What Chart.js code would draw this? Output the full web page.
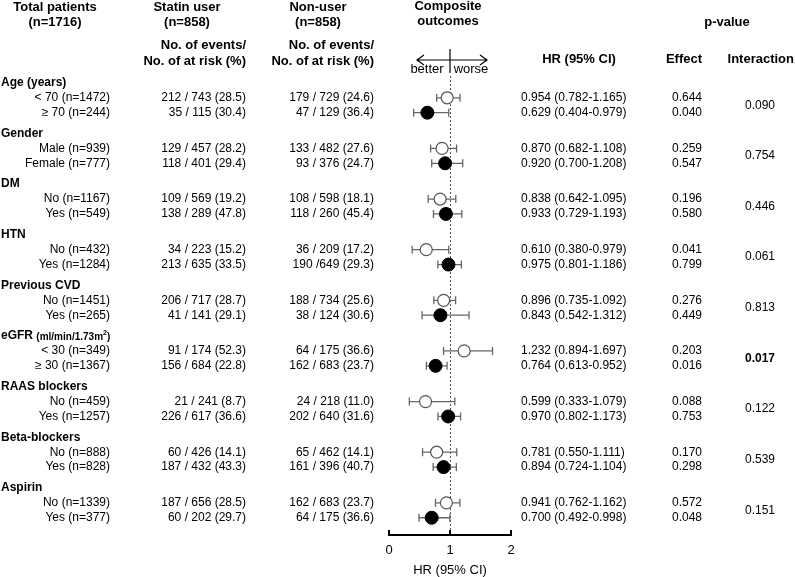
<!DOCTYPE html>
<html lang="en">
<head>
    <meta charset="UTF-8">
    <title>Composite outcomes by subgroup</title>
    <script src="https://cdn.jsdelivr.net/npm/chart.js"></script>
    <style>
        body { margin: 0; background: #fff; }
        canvas { display: block; }
    </style>
</head>
<body>
    <canvas id="myChart" width="795" height="577"></canvas>
    <script>
        // subgroup data, two rows per group
        const groups = ['Age (years)', 'Gender', 'DM', 'HTN', 'Previous CVD', 'eGFR', 'RAAS blockers', 'Beta-blockers', 'Aspirin'];
        const subgroups = [
            ['< 70 (n=1472)', '\u2265 70 (n=244)'],
            ['Male (n=939)', 'Female (n=777)'],
            ['No (n=1167)', 'Yes (n=549)'],
            ['No (n=432)', 'Yes (n=1284)'],
            ['No (n=1451)', 'Yes (n=265)'],
            ['< 30 (n=349)', '\u2265 30 (n=1367)'],
            ['No (n=459)', 'Yes (n=1257)'],
            ['No (n=888)', 'Yes (n=828)'],
            ['No (n=1339)', 'Yes (n=377)']
        ];
        const statinEvents = [
            ['212 / 743 (28.5)', '35 / 115 (30.4)'],
            ['129 / 457 (28.2)', '118 / 401 (29.4)'],
            ['109 / 569 (19.2)', '138 / 289 (47.8)'],
            ['34 / 223 (15.2)', '213 / 635 (33.5)'],
            ['206 / 717 (28.7)', '41 / 141 (29.1)'],
            ['91 / 174 (52.3)', '156 / 684 (22.8)'],
            ['21 / 241 (8.7)', '226 / 617 (36.6)'],
            ['60 / 426 (14.1)', '187 / 432 (43.3)'],
            ['187 / 656 (28.5)', '60 / 202 (29.7)']
        ];
        const nonUserEvents = [
            ['179 / 729 (24.6)', '47 / 129 (36.4)'],
            ['133 / 482 (27.6)', '93 / 376 (24.7)'],
            ['108 / 598 (18.1)', '118 / 260 (45.4)'],
            ['36 / 209 (17.2)', '190 /649 (29.3)'],
            ['188 / 734 (25.6)', '38 / 124 (30.6)'],
            ['64 / 175 (36.6)', '162 / 683 (23.7)'],
            ['24 / 218 (11.0)', '202 / 640 (31.6)'],
            ['65 / 462 (14.1)', '161 / 396 (40.7)'],
            ['162 / 683 (23.7)', '64 / 175 (36.6)']
        ];
        const hr = [[0.954, 0.629], [0.870, 0.920], [0.838, 0.933], [0.610, 0.975], [0.896, 0.843], [1.232, 0.764], [0.599, 0.970], [0.781, 0.894], [0.941, 0.700]];
        const ciLow = [[0.782, 0.404], [0.682, 0.700], [0.642, 0.729], [0.380, 0.801], [0.735, 0.542], [0.894, 0.613], [0.333, 0.802], [0.550, 0.724], [0.762, 0.492]];
        const ciHigh = [[1.165, 0.979], [1.108, 1.208], [1.095, 1.193], [0.979, 1.186], [1.092, 1.312], [1.697, 0.952], [1.079, 1.173], [1.111, 1.104], [1.162, 0.998]];
        const pEffect = [['0.644', '0.040'], ['0.259', '0.547'], ['0.196', '0.580'], ['0.041', '0.799'], ['0.276', '0.449'], ['0.203', '0.016'], ['0.088', '0.753'], ['0.170', '0.298'], ['0.572', '0.048']];
        const pInteraction = ['0.090', '0.754', '0.446', '0.061', '0.813', '0.017', '0.122', '0.539', '0.151'];
        const xTicks = [0, 1, 2];

        const FONT = '"Liberation Sans", Arial, sans-serif';
        const GROUP_STEP = 3.4;
        // y value of a row: k = -1 group label, 0 first row, 1 second row
        function rowPos(gi, k) { return gi * GROUP_STEP + 1 + k; }

        function txt(ctx, s, x, y, align, font) {
            ctx.font = font;
            ctx.textAlign = align;
            ctx.fillText(s, x, y);
        }

        const forestPlugin = {
            id: 'forest',
            beforeDatasetsDraw(chart) {
                const { ctx, chartArea } = chart;
                const x = chart.scales.x, y = chart.scales.y;
                const x1 = Math.round(x.getPixelForValue(1)) + 0.5;
                ctx.save();
                ctx.strokeStyle = '#555';
                ctx.lineWidth = 1;
                ctx.setLineDash([2, 2]);
                ctx.beginPath();
                ctx.moveTo(x1, 76);
                ctx.lineTo(x1, chartArea.bottom);
                ctx.stroke();
                ctx.setLineDash([]);

                // confidence intervals
                ctx.strokeStyle = '#666';
                ctx.lineWidth = 1.3;
                groups.forEach((g, gi) => {
                    [0, 1].forEach(k => {
                        const py = y.getPixelForValue(rowPos(gi, k));
                        const a = x.getPixelForValue(ciLow[gi][k]);
                        const b = x.getPixelForValue(ciHigh[gi][k]);
                        ctx.beginPath();
                        ctx.moveTo(a, py); ctx.lineTo(b, py);
                        ctx.moveTo(a, py - 4); ctx.lineTo(a, py + 4);
                        ctx.moveTo(b, py - 4); ctx.lineTo(b, py + 4);
                        ctx.stroke();
                    });
                });
                ctx.restore();
            },
            afterDraw(chart) {
                const { ctx, chartArea } = chart;
                const x = chart.scales.x, y = chart.scales.y;
                ctx.save();
                ctx.fillStyle = '#000';
                ctx.textBaseline = 'middle';

                // upward ticks on the axis
                ctx.strokeStyle = '#000';
                ctx.lineWidth = 2;
                xTicks.forEach(t => {
                    const px = x.getPixelForValue(t);
                    ctx.beginPath();
                    ctx.moveTo(px, chartArea.bottom);
                    ctx.lineTo(px, chartArea.bottom - 5);
                    ctx.stroke();
                });

                // column headers
                const bold13 = 'bold 13px ' + FONT;
                txt(ctx, 'Total patients', 55, 7, 'center', bold13);
                txt(ctx, '(n=1716)', 55, 22, 'center', bold13);
                txt(ctx, 'Statin user', 187, 7, 'center', bold13);
                txt(ctx, '(n=858)', 187, 22, 'center', bold13);
                txt(ctx, 'Non-user', 318, 7, 'center', bold13);
                txt(ctx, '(n=858)', 318, 22, 'center', bold13);
                txt(ctx, 'No. of events/', 246, 45, 'right', bold13);
                txt(ctx, 'No. of at risk (%)', 246, 61, 'right', bold13);
                txt(ctx, 'No. of events/', 374, 45, 'right', bold13);
                txt(ctx, 'No. of at risk (%)', 374, 61, 'right', bold13);
                txt(ctx, 'Composite', 448, 6, 'center', bold13);
                txt(ctx, 'outcomes', 448, 21, 'center', bold13);
                txt(ctx, 'p-value', 727, 22, 'center', bold13);
                txt(ctx, 'HR (95% CI)', 579, 59, 'center', bold13);
                txt(ctx, 'Effect', 684, 59, 'center', bold13);
                txt(ctx, 'Interaction', 794, 59, 'right', bold13);

                // better / worse arrow
                const cx = x.getPixelForValue(1);
                ctx.strokeStyle = '#000';
                ctx.lineWidth = 1.2;
                ctx.beginPath();
                ctx.moveTo(cx - 33, 60); ctx.lineTo(cx + 37, 60);
                ctx.moveTo(cx - 26, 55); ctx.lineTo(cx - 33, 60); ctx.lineTo(cx - 26, 65);
                ctx.moveTo(cx + 30, 55); ctx.lineTo(cx + 37, 60); ctx.lineTo(cx + 30, 65);
                ctx.moveTo(cx, 49); ctx.lineTo(cx, 73);
                ctx.stroke();
                txt(ctx, 'better', cx - 23, 69, 'center', '13px ' + FONT);
                txt(ctx, 'worse', cx + 21, 69, 'center', '13px ' + FONT);

                // rows
                const reg = '12px ' + FONT;
                groups.forEach((g, gi) => {
                    const ly = y.getPixelForValue(rowPos(gi, -1));
                    if (g === 'eGFR') {
                        txt(ctx, 'eGFR', 1, ly, 'left', 'bold 12px ' + FONT);
                        ctx.font = 'bold 12px ' + FONT;
                        let px = 1 + ctx.measureText('eGFR ').width;
                        txt(ctx, '(ml/min/1.73m', px, ly + 1, 'left', 'bold 10px ' + FONT);
                        ctx.font = 'bold 10px ' + FONT;
                        px += ctx.measureText('(ml/min/1.73m').width;
                        txt(ctx, '2', px, ly - 3, 'left', 'bold 7px ' + FONT);
                        ctx.font = 'bold 7px ' + FONT;
                        px += ctx.measureText('2').width;
                        txt(ctx, ')', px, ly + 1, 'left', 'bold 10px ' + FONT);
                    } else {
                        txt(ctx, g, 1, ly, 'left', 'bold 12px ' + FONT);
                    }
                    [0, 1].forEach(k => {
                        const py = y.getPixelForValue(rowPos(gi, k));
                        txt(ctx, subgroups[gi][k], 110, py, 'right', reg);
                        txt(ctx, statinEvents[gi][k], 246, py, 'right', reg);
                        txt(ctx, nonUserEvents[gi][k], 374, py, 'right', reg);
                        const s = hr[gi][k].toFixed(3) + ' (' + ciLow[gi][k].toFixed(3) + '-' + ciHigh[gi][k].toFixed(3) + ')';
                        txt(ctx, s, 521, py, 'left', reg);
                        txt(ctx, pEffect[gi][k], 687, py, 'center', reg);
                    });
                    const my = (y.getPixelForValue(rowPos(gi, 0)) + y.getPixelForValue(rowPos(gi, 1))) / 2;
                    txt(ctx, pInteraction[gi], 760, my, 'center', (gi === 5 ? 'bold ' : '') + '12px ' + FONT);
                });
                ctx.restore();
            }
        };

        Chart.defaults.font.family = FONT;
        Chart.defaults.color = '#000';

        const firstRows = groups.map((g, gi) => ({ x: hr[gi][0], y: rowPos(gi, 0) }));
        const secondRows = groups.map((g, gi) => ({ x: hr[gi][1], y: rowPos(gi, 1) }));

        const ctx = document.getElementById('myChart').getContext('2d');
        const myChart = new Chart(ctx, {
            type: 'scatter',
            data: {
                datasets: [
                    {
                        label: 'first',
                        data: firstRows,
                        pointRadius: 6,
                        pointBackgroundColor: '#fff',
                        pointBorderColor: '#555',
                        pointBorderWidth: 1.2
                    },
                    {
                        label: 'second',
                        data: secondRows,
                        pointRadius: 6.5,
                        pointBackgroundColor: '#000',
                        pointBorderColor: '#000',
                        pointBorderWidth: 1
                    }
                ]
            },
            options: {
                responsive: false,
                animation: false,
                clip: false,
                layout: { padding: { left: 389, right: 284, top: 68, bottom: 0 } },
                plugins: {
                    legend: { display: false },
                    tooltip: { enabled: false }
                },
                scales: {
                    x: {
                        type: 'linear',
                        min: 0,
                        max: 2,
                        position: 'bottom',
                        grid: { display: false, drawTicks: false },
                        border: { display: true, color: '#000', width: 2 },
                        ticks: { stepSize: 1, color: '#000', font: { size: 13 }, padding: 8 },
                        title: { display: true, text: 'HR (95% CI)', color: '#000', font: { size: 13, lineHeight: 1 }, padding: { top: 0, bottom: 0 } },
                        afterFit: scale => { scale.height = 42; }
                    },
                    y: {
                        type: 'linear',
                        display: false,
                        reverse: true,
                        min: -1,
                        max: 30.36
                    }
                }
            },
            plugins: [forestPlugin]
        });
    </script>
</body>
</html>
